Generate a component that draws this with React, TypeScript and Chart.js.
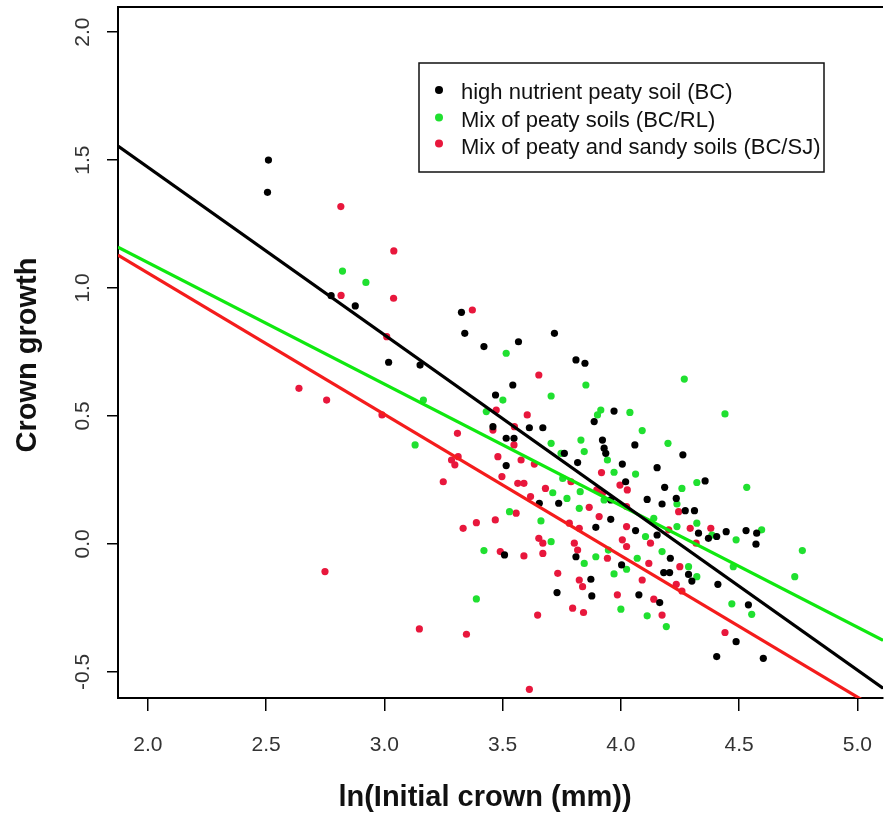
import { useEffect, useRef } from "react";
import { Chart, registerables } from "chart.js";

Chart.register(...registerables);

// Axis ranges (ln initial crown vs crown growth)
const X_MIN = 1.874;
const X_MAX = 5.108;
const Y_MIN = -0.602;
const Y_MAX = 2.098;

const xTitle = "ln(Initial crown (mm))";
const yTitle = "Crown growth";

const seriesNames = [
  "high nutrient peaty soil (BC)",
  "Mix of peaty soils (BC/RL)",
  "Mix of peaty and sandy soils (BC/SJ)",
];
const pointColors = ["#000000", "#20e030", "#e8173c"];
const lineColors = ["#000000", "#10e810", "#f41c1c"];

// Fitted regression lines: growth = intercept + slope * ln(crown)
const fitIntercepts = [2.782, 2.05, 2.164];
const fitSlopes = [-0.655, -0.475, -0.5525];

// high nutrient peaty soil (BC)
const bcPoints: [number, number][] = [
  [2.51, 1.5], [2.506, 1.374], [2.775, 0.97], [2.877, 0.93], [3.018, 0.71],
  [3.326, 0.905], [3.34, 0.823], [3.421, 0.771], [3.567, 0.79], [3.719, 0.823],
  [3.151, 0.699], [3.81, 0.719], [3.848, 0.706], [3.543, 0.621], [3.47, 0.582],
  [3.459, 0.458], [3.613, 0.454], [3.67, 0.454], [3.515, 0.413], [3.548, 0.413],
  [3.971, 0.519], [3.887, 0.478], [3.922, 0.406], [3.929, 0.374], [3.936, 0.354],
  [4.059, 0.387], [3.761, 0.354], [3.817, 0.318], [4.262, 0.348], [4.006, 0.312],
  [3.515, 0.306], [4.153, 0.298], [4.356, 0.246], [4.02, 0.243], [4.185, 0.221],
  [4.111, 0.174], [4.174, 0.156], [4.234, 0.178], [4.311, 0.13], [4.272, 0.13],
  [3.957, 0.172], [3.737, 0.159], [3.655, 0.159], [3.957, 0.096], [3.894, 0.065],
  [4.062, 0.052], [4.153, 0.035], [4.328, 0.042], [4.405, 0.029], [4.37, 0.022],
  [4.445, 0.048], [4.529, 0.052], [4.574, 0.042], [4.571, -0.001], [3.508, -0.043],
  [3.81, -0.05], [4.209, -0.056], [4.003, -0.082], [4.181, -0.112], [4.206, -0.112],
  [4.286, -0.119], [4.3, -0.145], [3.873, -0.138], [3.73, -0.19], [3.877, -0.203],
  [4.076, -0.199], [4.41, -0.158], [4.164, -0.229], [4.539, -0.238], [4.487, -0.382],
  [4.405, -0.44], [4.602, -0.447],
];

// Mix of peaty soils (BC/RL)
const rlPoints: [number, number][] = [
  [2.823, 1.066], [2.922, 1.022], [3.165, 0.562], [3.515, 0.745], [3.852, 0.621],
  [3.705, 0.578], [4.268, 0.644], [4.44, 0.508], [3.501, 0.562], [3.431, 0.517],
  [3.901, 0.504], [3.915, 0.523], [4.038, 0.514], [4.09, 0.443], [3.831, 0.406],
  [4.199, 0.393], [3.705, 0.393], [3.747, 0.354], [3.943, 0.328], [3.845, 0.361],
  [3.13, 0.387], [4.062, 0.273], [3.971, 0.28], [3.754, 0.256], [4.258, 0.217],
  [4.321, 0.24], [4.532, 0.221], [3.828, 0.204], [3.772, 0.178], [3.712, 0.2],
  [3.824, 0.139], [3.929, 0.172], [4.139, 0.1], [4.237, 0.156], [4.237, 0.068],
  [4.321, 0.081], [4.385, 0.035], [4.595, 0.055], [3.529, 0.126], [3.662, 0.09],
  [3.421, -0.026], [3.705, 0.009], [3.894, -0.05], [3.947, -0.024], [4.069, -0.056],
  [4.104, 0.029], [4.174, -0.03], [4.286, -0.089], [4.487, 0.016], [4.767, -0.026],
  [4.735, -0.128], [4.469, -0.234], [4.553, -0.275], [3.971, -0.117], [4.024, -0.099],
  [3.845, -0.076], [4.0, -0.255], [4.111, -0.281], [4.192, -0.323], [3.389, -0.215],
  [4.321, -0.128], [4.475, -0.089],
];

// Mix of peaty and sandy soils (BC/SJ)
const sjPoints: [number, number][] = [
  [2.816, 1.318], [3.04, 1.145], [2.817, 0.971], [3.039, 0.96], [3.01, 0.81],
  [2.639, 0.608], [2.756, 0.562], [2.99, 0.504], [2.749, -0.108], [3.148, -0.332],
  [3.347, -0.353], [3.372, 0.914], [3.653, 0.66], [3.473, 0.523], [3.604, 0.504],
  [3.55, 0.458], [3.459, 0.445], [3.309, 0.432], [3.548, 0.387], [3.284, 0.328],
  [3.312, 0.341], [3.298, 0.309], [3.249, 0.243], [3.48, 0.341], [3.578, 0.328],
  [3.634, 0.312], [3.497, 0.263], [3.564, 0.237], [3.59, 0.237], [3.681, 0.217],
  [3.789, 0.243], [3.918, 0.279], [3.898, 0.211], [3.922, 0.198], [3.996, 0.23],
  [4.027, 0.211], [3.618, 0.185], [3.866, 0.143], [3.908, 0.107], [4.024, 0.146],
  [4.244, 0.126], [3.557, 0.12], [3.469, 0.094], [3.389, 0.083], [3.333, 0.061],
  [3.782, 0.081], [3.824, 0.061], [4.024, 0.068], [4.202, 0.055], [4.293, 0.061],
  [4.38, 0.061], [3.653, 0.022], [3.67, 0.003], [3.803, 0.003], [4.006, 0.016],
  [4.024, -0.01], [4.125, 0.003], [4.318, 0.003], [3.67, -0.037], [3.49, -0.03],
  [3.59, -0.047], [3.817, -0.024], [3.943, -0.056], [4.118, -0.076], [4.249, -0.089],
  [3.824, -0.141], [3.838, -0.167], [3.733, -0.115], [4.09, -0.141], [3.985, -0.199],
  [4.139, -0.216], [4.234, -0.158], [4.258, -0.184], [3.648, -0.278], [3.796, -0.251],
  [3.842, -0.268], [4.174, -0.278], [4.44, -0.346], [3.613, -0.568],
];

const allSeries = [bcPoints, rlPoints, sjPoints];

const FONT = '"Liberation Sans", Arial, Helvetica, sans-serif';

// Frame top edge, axis titles and the boxed legend
const overlayPlugin = {
  id: "overlay",
  afterDraw(chart: Chart) {
    const { ctx, chartArea } = chart;
    ctx.save();
    ctx.strokeStyle = "#000";
    ctx.lineWidth = 2;
    ctx.beginPath();
    ctx.moveTo(chartArea.left - 1, chartArea.top);
    ctx.lineTo(chartArea.right, chartArea.top);
    ctx.stroke();

    ctx.fillStyle = "#111";
    ctx.font = `bold 29px ${FONT}`;
    ctx.textAlign = "center";
    ctx.textBaseline = "middle";
    ctx.fillText(xTitle, 485, 798);

    ctx.save();
    ctx.translate(28, 355);
    ctx.rotate(-Math.PI / 2);
    ctx.fillText(yTitle, 0, 0);
    ctx.restore();

    // legend
    const box = { x: 419, y: 63, w: 405, h: 109 };
    ctx.lineWidth = 1.5;
    ctx.strokeStyle = "#111";
    ctx.strokeRect(box.x, box.y, box.w, box.h);
    const dotY = [90, 117.5, 143.5];
    const textY = [93, 121, 148];
    ctx.font = `22px ${FONT}`;
    ctx.textAlign = "left";
    seriesNames.forEach((name, i) => {
      ctx.fillStyle = pointColors[i];
      ctx.beginPath();
      ctx.arc(439, dotY[i], 4, 0, Math.PI * 2);
      ctx.fill();
      ctx.fillStyle = "#111";
      ctx.fillText(name, 461, textY[i]);
    });
    ctx.restore();
  },
};

export default function App() {
  const canvasRef = useRef<HTMLCanvasElement | null>(null);

  useEffect(() => {
    if (!canvasRef.current) return;

    const pointSets = allSeries.map((pts, i) => ({
      label: seriesNames[i],
      data: pts.map(([x, y]) => ({ x, y })),
      backgroundColor: pointColors[i],
      borderColor: pointColors[i],
      borderWidth: 0,
      pointRadius: 3.6,
      showLine: false,
      order: 2,
    }));

    const fitSets = fitIntercepts.map((a, i) => ({
      label: seriesNames[i] + " fit",
      data: [X_MIN, X_MAX].map((x) => ({ x, y: a + fitSlopes[i] * x })),
      borderColor: lineColors[i],
      backgroundColor: lineColors[i],
      borderWidth: 3.2,
      pointRadius: 0,
      showLine: true,
      order: 1,
    }));

    const chart = new Chart(canvasRef.current, {
      type: "scatter",
      data: { datasets: [...pointSets, ...fitSets] as any },
      options: {
        responsive: false,
        animation: false,
        devicePixelRatio: 1,
        events: [],
        layout: { padding: { top: 7, left: 0, right: 0, bottom: 0 } },
        plugins: {
          legend: { display: false },
          tooltip: { enabled: false },
        },
        scales: {
          x: {
            type: "linear",
            min: X_MIN,
            max: X_MAX,
            grid: {
              drawOnChartArea: false,
              drawTicks: true,
              tickLength: 13,
              color: "#000",
              lineWidth: 1.5,
            },
            border: { display: true, color: "#000", width: 2 },
            ticks: {
              stepSize: 0.5,
              includeBounds: false,
              maxRotation: 0,
              minRotation: 0,
              padding: 22,
              color: "#333",
              font: { family: FONT, size: 21 },
              callback: (v: any) => Number(v).toFixed(1),
            },
            afterFit: (s: any) => {
              s.height = 118;
              s.paddingLeft = 0;
              s.paddingRight = 0;
            },
          },
          y: {
            type: "linear",
            min: Y_MIN,
            max: Y_MAX,
            grid: {
              drawOnChartArea: false,
              drawTicks: true,
              tickLength: 11,
              color: "#000",
              lineWidth: 1.5,
            },
            border: { display: true, color: "#000", width: 2 },
            ticks: {
              stepSize: 0.5,
              includeBounds: false,
              minRotation: 90,
              maxRotation: 90,
              crossAlign: "center",
              padding: 6,
              color: "#333",
              font: { family: FONT, size: 21 },
              callback: (v: any) => Number(v).toFixed(1),
            },
            afterFit: (s: any) => {
              s.width = 118;
              s.paddingTop = 0;
              s.paddingBottom = 0;
            },
          },
        },
      },
      plugins: [overlayPlugin],
    });

    return () => chart.destroy();
  }, []);

  return (
    <div
      style={{
        position: "fixed",
        left: 0,
        top: 0,
        width: 887,
        height: 816,
        background: "#fff",
      }}
    >
      <canvas ref={canvasRef} width={887} height={816} />
    </div>
  );
}
